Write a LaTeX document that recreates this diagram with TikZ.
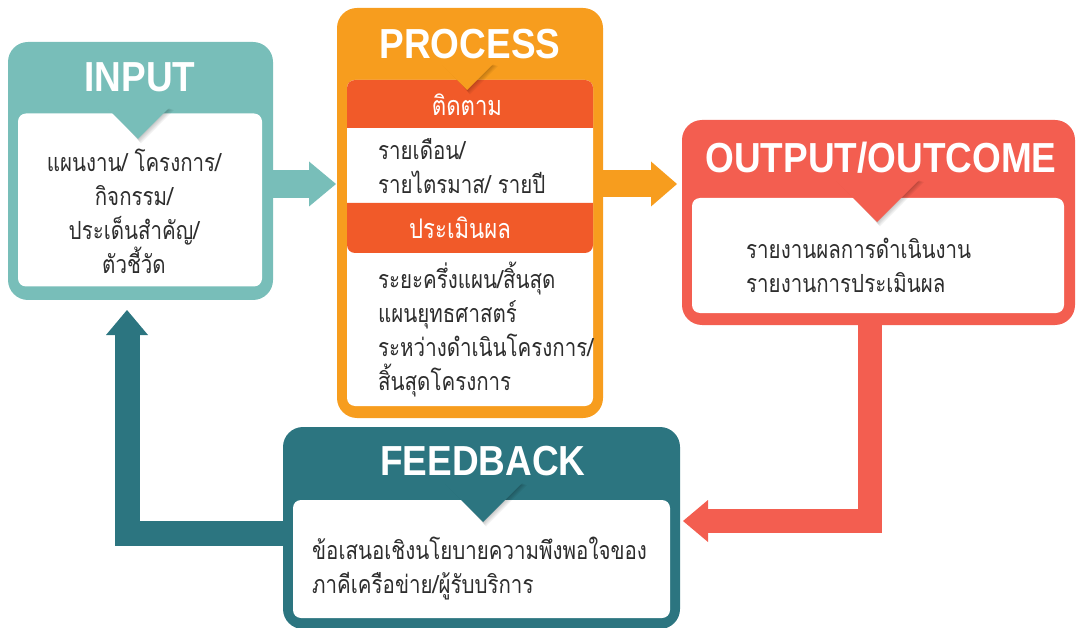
\documentclass[tikz,border=0pt]{standalone}
\usepackage{fontspec}
\setmainfont{Liberation Sans}
\newfontfamily\titlefont[FakeStretch=0.88]{Liberation Sans}
\newfontfamily\thaifont[Script=Thai,FakeStretch=0.82]{Loma}
\usetikzlibrary{arrows.meta}
\definecolor{tuer}{RGB}{120,190,185}
\definecolor{orn}{RGB}{247,157,30}
\definecolor{hdr}{RGB}{241,90,41}
\definecolor{kor}{RGB}{243,94,80}
\definecolor{dtl}{RGB}{44,117,128}
\definecolor{txt}{RGB}{45,45,45}
% pointer: colour, apex x, apex y, depth
\newcommand{\Pointer}[4]{%
\foreach \s in {1,...,5}
  \fill[black,opacity=0.045] (#2-#4+\s,#3-#4+\s*0.4) -- (#2+#4+\s,#3-#4+\s*0.4) -- (#2+\s*0.6,#3+\s*0.9) -- cycle;
\fill[#1] (#2-#4,#3-#4) -- (#2+#4,#3-#4) -- (#2,#3) -- cycle;}

\begin{document}
\begin{tikzpicture}[x=1pt,y=-1pt,line join=miter]
	\tikzstyle{outer}=[rounded corners=20pt,inner sep=0pt];
	\tikzstyle{inner}=[fill=white,rounded corners=8pt,inner sep=0pt];
	\tikzstyle{title}=[white,inner sep=0pt,font=\titlefont\bfseries\fontsize{42}{42}\selectfont];
	\tikzstyle{thai}=[txt,inner sep=0pt,font=\thaifont\fontsize{25}{34}\selectfont];
	\tikzstyle{head}=[white,inner sep=0pt,font=\thaifont\fontsize{27}{34}\selectfont];
	\tikzstyle{fat}=[line width=#1pt];
%<--------------------------------------------------------------------------->%
	\useasboundingbox (0,0) rectangle (1076,628);
	%% boxes
	\node[outer,fill=tuer,minimum width=265pt,minimum height=258pt] (input)    at (140.5,171)   {};
	\node[outer,fill=orn, minimum width=266pt,minimum height=410pt] (process)  at (470,213)     {};
	\node[outer,fill=kor, minimum width=393pt,minimum height=205pt] (output)   at (878.5,222.5) {};
	\node[outer,fill=dtl, minimum width=397pt,minimum height=202pt] (feedback) at (481.5,528)   {};
	\node[inner,minimum width=244pt,minimum height=173pt] (inputbox)    at (140,200)     {};
	\node[inner,minimum width=246pt,minimum height=326pt] (processbox)  at (470,243)     {};
	\node[inner,minimum width=372pt,minimum height=115pt] (outputbox)   at (878,255.5)   {};
	\node[inner,minimum width=377pt,minimum height=118pt] (feedbackbox) at (481.5,559)   {};
	%% process headers
	\fill[hdr] (347,128) [rounded corners=8pt] -- (347,80) -- (593,80) [sharp corners] -- (593,128) -- cycle;
	\fill[hdr] (347,203) [rounded corners=8pt] -- (347,253) -- (593,253) [sharp corners] -- (593,203) -- cycle;
	%% pointers
	\Pointer{tuer}{138}{139}{31}
	\Pointer{orn}{467}{90}{26}
	\Pointer{kor}{877}{222}{42}
	\Pointer{dtl}{483}{522}{39}
	%% arrows
	\coordinate (ip) at (336,184);
	\coordinate (op) at (677,184);
	\coordinate (kx) at (870,0);
	\coordinate (ft) at (683,521);
	\coordinate (fy) at (0,533);
	\coordinate (it) at (127,310);
	\draw[tuer,fat=28,-{Triangle[width=45pt,length=27pt,line width=0pt]}] (input.east |- ip) -- (ip);
	\draw[orn,fat=27,-{Triangle[width=45pt,length=26pt,line width=0pt]}] (process.east |- op) -- (op);
	\draw[kor,fat=24,-{Triangle[width=42pt,length=25pt,line width=0pt]}] (output.south -| kx) |- (ft);
	\draw[dtl,fat=25,-{Triangle[width=42pt,length=25pt,line width=0pt]}] (feedback.west |- fy) -| (it);
	%% titles
	\node[title] (inputtitle)    at (140,77)  {INPUT};
	\node[title] (processtitle)  at (470,44)  {PROCESS};
	\node[title] (outputtitle)   at (881,158) {OUTPUT/OUTCOME};
	\node[title] (feedbacktitle) at (483,461) {FEEDBACK};
	\node[head] (follow) at (467,105) {ติดตาม};
	\node[head] (assess) at (460,228) {ประเมินผล};
	%% texts
	\node[thai,align=center] (inputtext) at (134,211)
		{แผนงาน/ โครงการ/\\กิจกรรม/\\ประเด็นสำคัญ/\\ตัวชี้วัด};
	\node[thai,align=left,anchor=west] (followtext) at (378,166)
		{รายเดือน/\\รายไตรมาส/ รายปี};
	\node[thai,align=left,anchor=west] (assesstext) at (378,330)
		{ระยะครึ่งแผน/สิ้นสุด\\แผนยุทธศาสตร์\\ระหว่างดำเนินโครงการ/\\สิ้นสุดโครงการ};
	\node[thai,align=left,anchor=west] (outputtext) at (746,265)
		{รายงานผลการดำเนินงาน\\รายงานการประเมินผล};
	\node[thai,align=left,anchor=west] (feedbacktext) at (312,569)
		{ข้อเสนอเชิงนโยบายความพึงพอใจของ\\ภาคีเครือข่าย/ผู้รับบริการ};
\end{tikzpicture}
\end{document}
